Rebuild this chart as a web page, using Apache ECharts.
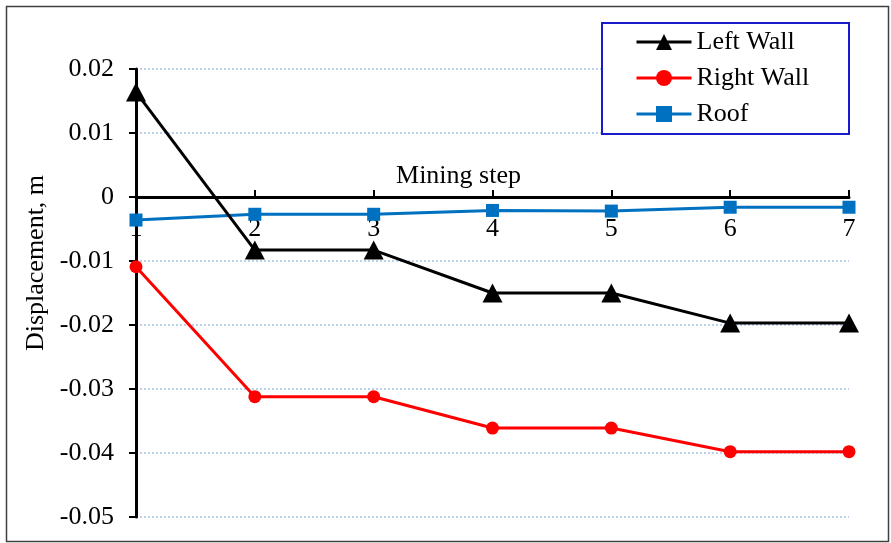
<!DOCTYPE html>
<html>
<head>
<meta charset="utf-8">
<script src="https://cdn.jsdelivr.net/npm/echarts@6/dist/echarts.min.js"></script>
<style>
  html, body { margin: 0; padding: 0; background: #fff; }
  #main { width: 891px; height: 543px; }
</style>
</head>
<body>
<div id="main"></div>
<script>
// mining steps and displacements (m)
const steps = ['1', '2', '3', '4', '5', '6', '7'];
const leftWall = [0.0164, -0.0083, -0.0083, -0.0150, -0.0150, -0.0197, -0.0197];
const rightWall = [-0.0109, -0.0312, -0.0312, -0.0361, -0.0361, -0.0398, -0.0398];
const roof = [-0.0036, -0.0027, -0.0027, -0.0021, -0.0022, -0.0016, -0.0016];

const FONT = 'Liberation Serif';
const FS = 26;

const chart = echarts.init(document.getElementById('main'), null, {renderer: 'canvas'});

const option = {
    backgroundColor: '#fff',
    animation: false,
    textStyle: {fontFamily: FONT, color: '#000'},
    grid: {left: 136, right: 42, top: 69, bottom: 26, containLabel: false, outerBoundsMode: 'none'},
    graphic: [
        {   // outer frame
            type: 'rect', left: 4, top: 4, z: 0,
            shape: {width: 882, height: 535},
            style: {fill: null, stroke: '#404040', lineWidth: 1.5}
        },
        {   // legend box
            type: 'rect', left: 601, top: 22, z: 1,
            shape: {width: 247, height: 111},
            style: {fill: '#fff', stroke: '#1a1acc', lineWidth: 2}
        }
    ],
    legend: {
        orient: 'vertical',
        left: 635,
        top: 29,
        padding: 0,
        itemWidth: 55,
        itemHeight: 20,
        itemGap: 10,
        z: 5,
        lineStyle: {width: 3},
        textStyle: {fontFamily: FONT, fontSize: FS, color: '#000', lineHeight: 26},
        data: ['Left Wall', 'Right Wall', 'Roof']
    },
    xAxis: {
        type: 'category',
        data: steps,
        boundaryGap: false,
        position: 'bottom',
        offset: -320,   // sits on the zero line
        name: 'Mining step',
        nameLocation: 'middle',
        nameGap: -34,
        nameMoveOverlap: false,
        nameTextStyle: {fontFamily: FONT, fontSize: FS, color: '#000', padding: [0, 68, 0, 0]},
        axisLine: {onZero: false, lineStyle: {color: '#000', width: 3}},
        axisTick: {show: true, inside: true, length: 7, alignWithLabel: true, lineStyle: {color: '#000', width: 2}},
        axisLabel: {fontFamily: FONT, fontSize: FS, color: '#000', margin: 19, interval: 0},
        splitLine: {show: false}
    },
    yAxis: {
        type: 'value',
        min: -0.05,
        max: 0.02,
        interval: 0.01,
        name: 'Displacement, m',
        nameLocation: 'middle',
        nameGap: 81,
        nameTextStyle: {fontFamily: FONT, fontSize: FS, color: '#000', padding: [0, 0, 0, 60]},
        axisLine: {show: true, lineStyle: {color: '#000', width: 3}},
        axisTick: {show: true, length: 7, lineStyle: {color: '#000', width: 2}},
        axisLabel: {
            fontFamily: FONT, fontSize: FS, color: '#000', margin: 22,
            formatter: v => (Math.abs(v) < 1e-9 ? '0' : v.toFixed(2))
        },
        splitLine: {show: true, lineStyle: {color: '#a8c2e8', width: 1.5, type: [2, 2]}}
    },
    series: [
        {
            name: 'Left Wall',
            type: 'line',
            data: leftWall,
            symbol: 'triangle',
            symbolSize: [20, 19],
            lineStyle: {color: '#000', width: 3},
            itemStyle: {color: '#000'},
            z: 4
        },
        {
            name: 'Right Wall',
            type: 'line',
            data: rightWall,
            symbol: 'circle',
            symbolSize: 13,
            lineStyle: {color: '#ff0000', width: 3},
            itemStyle: {color: '#ff0000'},
            z: 3
        },
        {
            name: 'Roof',
            type: 'line',
            data: roof,
            symbol: 'rect',
            symbolSize: 13,
            lineStyle: {color: '#0070c0', width: 3},
            itemStyle: {color: '#0070c0'},
            z: 3
        }
    ]
};

chart.setOption(option);
</script>
</body>
</html>
